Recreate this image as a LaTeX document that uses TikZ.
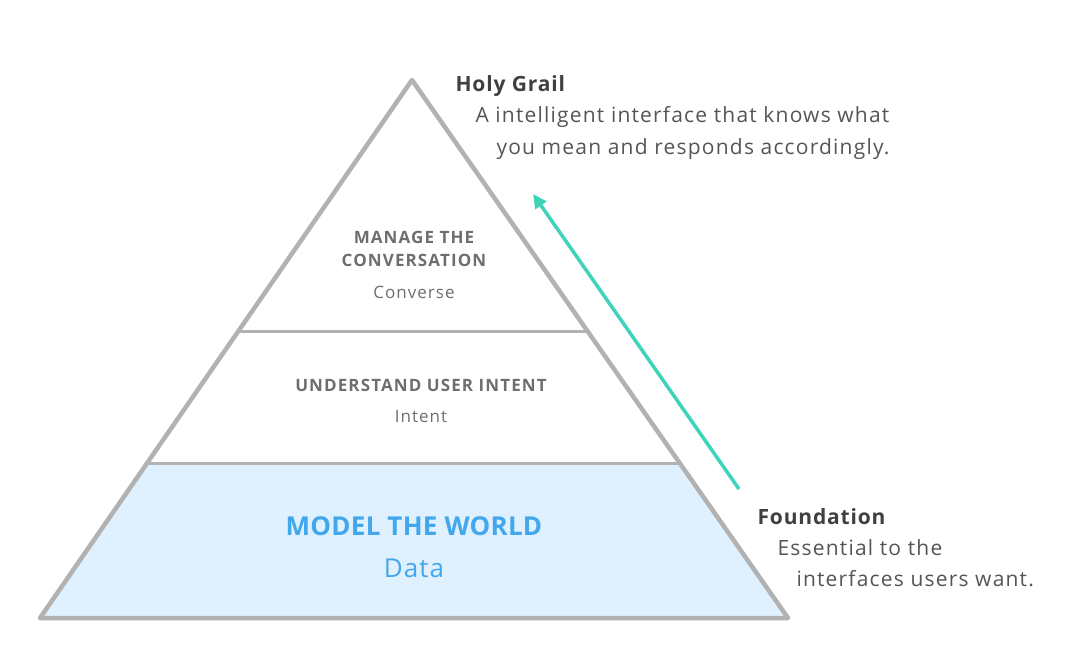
\documentclass[tikz,border=0pt]{standalone}
\usepackage{fontspec}
\setmainfont{Open Sans}
\usepackage{tikz}
\usepackage{xcolor}
\usetikzlibrary{arrows.meta,calc,positioning}
\definecolor{edgegray}{RGB}{178,178,178}
\definecolor{labelgray}{RGB}{110,110,110}
\definecolor{headgray}{RGB}{64,64,64}
\definecolor{textgray}{RGB}{85,85,85}
\definecolor{baseblue}{RGB}{223,240,254}
\definecolor{worldblue}{RGB}{66,167,236}
\definecolor{arrowteal}{RGB}{61,212,185}

\tikzset{
  level/.style={font=\fontsize{17}{20}\selectfont\bfseries\addfontfeatures{LetterSpace=6.5}, text=labelgray, align=center},
  levelsub/.style={font=\fontsize{17}{20}\selectfont\addfontfeatures{LetterSpace=6}, text=labelgray},
  side/.style={font=\fontsize{21}{25}\selectfont\bfseries\addfontfeatures{LetterSpace=4}, text=headgray, anchor=west},
  sidesub/.style={font=\fontsize{21}{25}\selectfont\addfontfeatures{LetterSpace=5.7}, text=textgray, anchor=west}
}

\begin{document}
\begin{tikzpicture}[x=1pt, y=-1pt, >=Stealth]
    \useasboundingbox (0,0) rectangle (1068,651);
    % Corners of the pyramid
    \coordinate (apex) at (412,80);
    \coordinate (baseL) at (40,618);
    \coordinate (baseR) at (788,618);
    \coordinate (midL) at (147.2,463);
    \coordinate (midR) at (679.7,463);
    \coordinate (topL) at (238.4,331);
    \coordinate (topR) at (587.4,331);

    % Bottom band
    \fill [baseblue] (baseL) -- (midL) -- (midR) -- (baseR) -- cycle;
    % Dividers
    \draw [line width=3pt, edgegray] (topL) -- (topR);
    \draw [line width=3pt, edgegray] (midL) -- (midR);
    % Outline
    \draw [line width=4.5pt, edgegray, line join=round] (apex) -- (baseL) -- (baseR) -- cycle;

    % Level texts
    \node [level] (converse) at (414,249) {MANAGE THE\\[3pt]CONVERSATION};
    \node [levelsub] (conversesub) at (414,292) {Converse};
    \node [level] (intent) at (421,385) {UNDERSTAND USER INTENT};
    \node [levelsub] (intentsub) at (421,417) {Intent};
    \node [level, font=\fontsize{26}{31}\selectfont\bfseries\addfontfeatures{LetterSpace=1}, text=worldblue] (world) at (414,526) {MODEL THE WORLD};
    \node [levelsub, font=\fontsize{26}{31}\selectfont\addfontfeatures{LetterSpace=4}, text=worldblue] (data) at (414,568) {Data};

    % Side notes
    \node [side] (grail) at (452,86) {Holy Grail};
    \node [sidesub] (grailA) at (472,117) {A intelligent interface that knows what};
    \node [sidesub] (grailB) at (493,149) {you mean and responds accordingly.};
    \node [side] (found) at (754,517) {Foundation};
    \node [sidesub] (foundA) at (774,548) {Essential to the};
    \node [sidesub] (foundB) at (793,579) {interfaces users want.};

    % Arrow
    \coordinate (arrowfrom) at (739,489);
    \coordinate (arrowto) at (533,194);
    \draw [-{Triangle[length=14pt,width=13pt]}, line width=3.5pt, arrowteal] (arrowfrom) -- (arrowto);
\end{tikzpicture}
\end{document}
